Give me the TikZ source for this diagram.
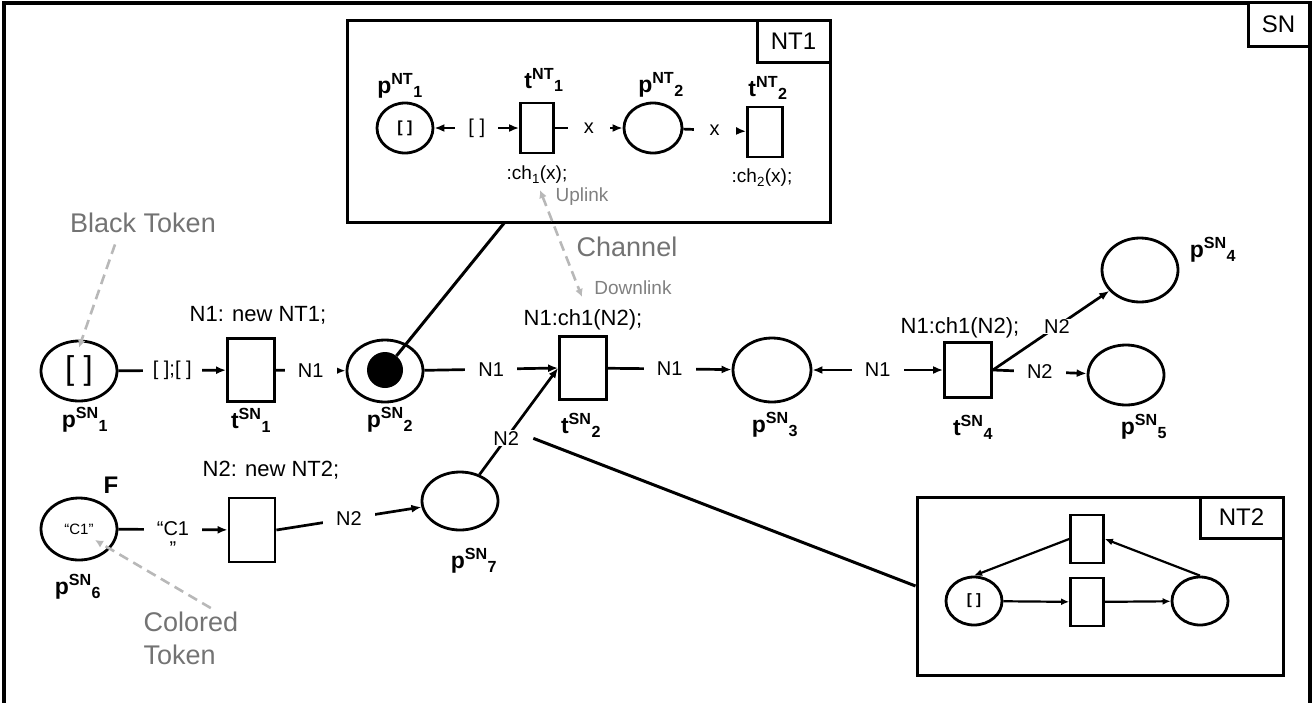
\documentclass[tikz,border=0pt]{standalone}
\usepackage{fontspec}
\setmainfont{Liberation Sans}
\usetikzlibrary{shapes.geometric,arrows.meta}

\newcommand{\pn}[3]{\textbf{#1\textsuperscript{#2}\textsubscript{#3}}}

\tikzset{
    place/.style={ellipse,draw,line width=2.8pt,inner sep=0pt,minimum width=76pt,minimum height=60pt},
    trans/.style={rectangle,draw,line width=2.8pt,inner sep=0pt,minimum width=47pt,minimum height=63pt},
    nplace/.style={place,minimum width=56pt,minimum height=50pt},
    ntrans/.style={trans,minimum width=33pt,minimum height=50pt},
    netbox/.style={rectangle,draw,line width=3pt,inner sep=0pt},
    tagbox/.style={netbox,fill=white,font=\fontsize{24}{28}\selectfont},
    parc/.style={-{Latex[length=10pt,width=8pt]},line width=2.7pt},
    barc/.style={{Latex[length=10pt,width=8pt]}-{Latex[length=10pt,width=8pt]},line width=2.7pt},
    sarc/.style={-{Latex[length=8pt,width=7pt]},line width=2.2pt},
    lbl/.style={fill=white,inner xsep=13pt,inner ysep=1pt,font=\fontsize{20}{20}\selectfont},
    inscr/.style={font=\fontsize{22}{26}\selectfont},
    pname/.style={font=\fontsize{23}{26}\selectfont\bfseries},
    note/.style={draw=black!28,line width=2.6pt,dash pattern=on 10pt off 6pt,-{Latex[length=8pt,width=8pt]}},
    notetext/.style={text=black!55,font=\fontsize{27}{33}\selectfont},
    smallnote/.style={text=black!50,font=\fontsize{19}{22}\selectfont},
    netlink/.style={line width=3pt},
}

\begin{document}
\begin{tikzpicture}[x=1pt,y=-1pt]
    \useasboundingbox (0,0) rectangle (1315,702);

    % frame of SN
    \draw[line width=4pt] (3.5,2.5) rectangle (1310,712);
    \node[tagbox,minimum width=61pt,minimum height=44pt] (SN) at (1278.5,24) {SN};

    % net NT1
    \node[netbox,minimum width=483pt,minimum height=202pt] (NT1) at (588.5,121) {};
    \node[tagbox,minimum width=73pt,minimum height=42pt] (NT1tag) at (793.5,41) {NT1};
    \begin{scope}
        \node[nplace,font=\fontsize{16}{18}\selectfont\bfseries] (pn1) at (405,128) {[ ]};
        \node[ntrans] (tn1) at (537,128) {};
        \node[nplace,minimum width=58pt] (pn2) at (653,128) {};
        \node[ntrans,minimum width=35pt] (tn2) at (765,132) {};
        \node[pname] (pn1name) at (400,86) {\pn{p}{NT}{1}};
        \node[pname] (tn1name) at (544,80) {\pn{t}{NT}{1}};
        \node[pname] (pn2name) at (661,85) {\pn{p}{NT}{2}};
        \node[pname] (tn2name) at (768,88) {\pn{t}{NT}{2}};
        \node[font=\fontsize{19}{22}\selectfont] (ch1) at (537,175) {:ch\textsubscript{1}(x);};
        \node[font=\fontsize{19}{22}\selectfont] (ch2) at (762,178) {:ch\textsubscript{2}(x);};
    \end{scope}
    \begin{scope}
        \path [barc] (pn1) edge node[lbl,inner xsep=13pt] (e1) {[ ]} (tn1);
        \path [parc] (tn1) edge node[lbl,inner xsep=16pt] (e2) {x} (pn2);
        \path [parc] (pn2) edge node[lbl,inner xsep=16pt] (e3) {x} (tn2);
    \end{scope}

    % net SN
    \begin{scope}
        \node[place,font=\fontsize{33}{36}\selectfont] (p1) at (79,371) {[ ]};
        \node[trans] (t1) at (251,370) {};
        \node[place,minimum height=62pt] (p2) at (385,371) {};
        \node[circle,fill,inner sep=0pt,minimum size=36pt] (tok) at (385,370) {};
        \node[trans] (t2) at (583,368) {};
        \node[place,minimum width=78pt,minimum height=64pt] (p3) at (772,370) {};
        \node[trans,minimum height=55pt] (t4) at (968,370) {};
        \node[place,minimum height=64pt] (p4) at (1140,270) {};
        \node[place] (p5) at (1126,375) {};
        \node[place,minimum height=62pt,font=\fontsize{15}{18}\selectfont] (p6) at (79,529) {“C1”};
        \node[trans,minimum width=46pt,minimum height=64pt] (t6) at (252,530) {};
        \node[place,minimum height=58pt] (p7) at (460,501) {};
    \end{scope}
    \begin{scope}
        \node[inscr] (t1code) at (258,315) {N1: new NT1;};
        \node[inscr] (t2code) at (583,320) {N1:ch1(N2);};
        \node[inscr] (t4code) at (960,328) {N1:ch1(N2);};
        \node[inscr] (t6code) at (271,470) {N2: new NT2;};
        \node[font=\fontsize{24}{28}\selectfont\bfseries] (F) at (111,485) {F};
        \node[pname] (p1name) at (85,420) {\pn{p}{SN}{1}};
        \node[pname] (t1name) at (251,420) {\pn{t}{SN}{1}};
        \node[pname] (p2name) at (390,420) {\pn{p}{SN}{2}};
        \node[pname] (t2name) at (581,425) {\pn{t}{SN}{2}};
        \node[pname] (p3name) at (775,425) {\pn{p}{SN}{3}};
        \node[pname] (t4name) at (973,427) {\pn{t}{SN}{4}};
        \node[pname] (p4name) at (1213,250) {\pn{p}{SN}{4}};
        \node[pname] (p5name) at (1144,427) {\pn{p}{SN}{5}};
        \node[pname] (p6name) at (78,587) {\pn{p}{SN}{6}};
        \node[pname] (p7name) at (474,561) {\pn{p}{SN}{7}};
    \end{scope}
    \begin{scope}
        \path [parc] (p1) edge node[lbl,inner xsep=10pt] (a1) {[ ];[ ]} (t1);
        \path [parc] (t1) edge node[lbl] (a2) {N1} (p2);
        \path [parc] (p2) edge node[lbl] (a3) {N1} (t2.west);
        \path [parc] (t2) edge node[lbl] (a4) {N1} (p3);
        \path [barc] (p3) edge node[lbl] (a5) {N1} (t4);
        \path [parc] (t4.east) edge node[lbl] (a6) {N2} (p5);
        \path [parc] (t4.east) edge node[lbl,pos=.55] (a7) {N2} (p4);
        \path [parc] (p6) edge node[lbl,align=center,yshift=-9pt] (a8) {“C1\\”} (t6);
        \path [parc] (t6.east) edge node[lbl] (a9) {N2} (p7);
        \path [parc] (p7) edge node[lbl,pos=.34] (n2lbl) {N2} (t2.west);
    \end{scope}

    % net NT2
    \node[netbox,minimum width=366pt,minimum height=178pt] (NT2) at (1100,586) {};
    \node[tagbox,minimum width=83pt,minimum height=41pt] (NT2tag) at (1241.5,517.5) {NT2};
    \begin{scope}
        \node[nplace,minimum height=48pt,font=\fontsize{15}{18}\selectfont\bfseries] (pa) at (974,601) {[ ]};
        \node[ntrans,minimum height=48pt] (tlo) at (1087,602) {};
        \node[ntrans,minimum height=48pt] (tup) at (1087,539) {};
        \node[nplace,minimum height=48pt] (pb) at (1200,601) {};
        \path [sarc] (pa) edge (tlo) (tlo) edge (pb);
        \path [sarc] (pb.north) edge (tup.east) (tup.west) edge (pa.north);
    \end{scope}

    % links to the nets
    \coordinate (nt1foot) at (505,222);
    \draw[netlink] (tok) -- (nt1foot);
    \draw[netlink] (n2lbl.east) -- (NT2.west);

    % notes
    \node[notetext] (blk) at (143,223) {Black Token};
    \node[notetext,align=left,anchor=west] (ctok) at (140,638) {Colored\\Token};
    \node[notetext] (chan) at (627,247) {Channel};
    \node[smallnote] (upl) at (582,197) {Uplink};
    \node[smallnote] (dnl) at (633,288) {Downlink};
    \coordinate (upend) at (540,190);
    \coordinate (dnend) at (582,297);
    \draw[note] ([xshift=-28pt,yshift=-8pt]blk.south) -- ([yshift=-8pt]p1.north);
    \draw[note] ([xshift=20pt]ctok.north) -- ([xshift=16pt,yshift=-11pt]p6.center);
    \draw[note,{Latex[length=8pt,width=8pt]}-{Latex[length=8pt,width=8pt]}] (upend) -- (dnend);
\end{tikzpicture}
\end{document}
